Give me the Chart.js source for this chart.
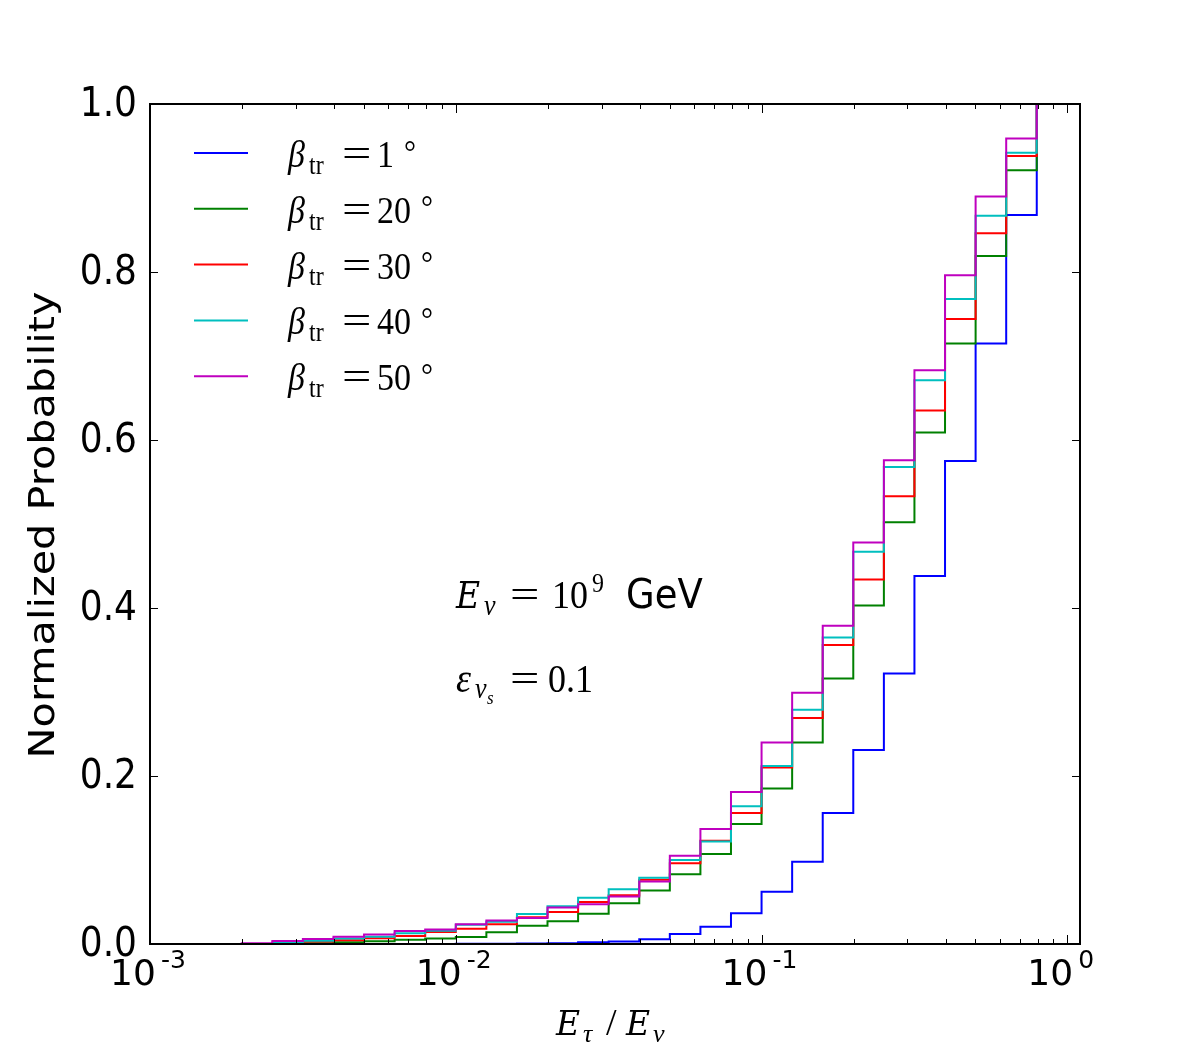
<!DOCTYPE html>
<html>
<head>
<meta charset="utf-8">
<script src="https://cdn.jsdelivr.net/npm/chart.js@4.4.0/dist/chart.umd.min.js"></script>
<style>
  body { margin: 0; background: #fff; }
  canvas { display: block; }
</style>
</head>
<body>
<canvas id="probChart" width="1200" height="1050"></canvas>
<script>
// bin edges of E_tau/E_nu (10 bins per decade), last point closes the step at 1.0
var binEdges = [0.001, 0.001259, 0.001585, 0.001995, 0.002512, 0.003162, 0.003981, 0.005012, 0.00631, 0.007943,
                0.01, 0.01259, 0.01585, 0.01995, 0.02512, 0.03162, 0.03981, 0.05012, 0.0631, 0.07943,
                0.1, 0.1259, 0.1585, 0.1995, 0.2512, 0.3162, 0.3981, 0.5012, 0.631, 0.7943];

var betaLabels = ['1', '20', '30', '40', '50'];
var lineColors = ['#0000ff', '#008000', '#ff0000', '#00bfbf', '#bf00bf'];

// value of each bin (held from its left edge up to the next edge)
var probBeta1  = [0, 0, 0, 0, 0, 0, 0, 0, 0, 0,
                  0.0002, 0.0004, 0.0006, 0.001, 0.002, 0.003, 0.0056, 0.0119, 0.0206, 0.0365,
                  0.0623, 0.098, 0.156, 0.231, 0.322, 0.438, 0.575, 0.715, 0.868, 1.0];
var probBeta20 = [0, 0, 0, 0, 0.0005, 0.001, 0.002, 0.0034, 0.005, 0.0065,
                  0.0082, 0.0139, 0.0218, 0.027, 0.036, 0.0485, 0.0638, 0.083, 0.107, 0.143,
                  0.185, 0.240, 0.316, 0.403, 0.502, 0.609, 0.715, 0.819, 0.921, 1.0];
var probBeta30 = [0, 0, 0, 0, 0.0015, 0.003, 0.0045, 0.0067, 0.0095, 0.0143,
                  0.0182, 0.0234, 0.0317, 0.038, 0.050, 0.058, 0.0765, 0.096, 0.123, 0.156,
                  0.210, 0.269, 0.356, 0.434, 0.533, 0.635, 0.744, 0.846, 0.938, 1.0];
var probBeta40 = [0, 0, 0, 0, 0.0016, 0.004, 0.0065, 0.0087, 0.0127, 0.0158,
                  0.0228, 0.0265, 0.0357, 0.0448, 0.055, 0.0652, 0.0788, 0.100, 0.122, 0.164,
                  0.212, 0.279, 0.365, 0.467, 0.568, 0.671, 0.768, 0.867, 0.942, 1.0];
var probBeta50 = [0, 0, 0, 0.0008, 0.0036, 0.006, 0.0085, 0.0112, 0.0155, 0.0172,
                  0.0236, 0.028, 0.031, 0.0435, 0.0473, 0.0564, 0.0744, 0.105, 0.137, 0.181,
                  0.240, 0.299, 0.379, 0.478, 0.576, 0.683, 0.796, 0.890, 0.959, 1.0];

var allProbs = [probBeta1, probBeta20, probBeta30, probBeta40, probBeta50];

// axis ticks
var xMajorTicks = [0.001, 0.01, 0.1, 1];
var xMajorExps = ['-3', '-2', '-1', '0'];
var xMinorTicks = [0.002, 0.003, 0.004, 0.005, 0.006, 0.007, 0.008, 0.009,
                   0.02, 0.03, 0.04, 0.05, 0.06, 0.07, 0.08, 0.09,
                   0.2, 0.3, 0.4, 0.5, 0.6, 0.7, 0.8, 0.9];
var yTicks = [0, 0.2, 0.4, 0.6, 0.8, 1.0];
var yTickLabels = ['0.0', '0.2', '0.4', '0.6', '0.8', '1.0'];

var SANS = '"DejaVu Sans", sans-serif';
var SERIF = '"Liberation Serif", serif';
var MSERIF = '"DejaVu Serif", serif';

// draws a row of text pieces; each piece has its own font, x offset and baseline shift
function drawRuns(ctx, x, y, runs, sy) {
    ctx.save();
    ctx.translate(x, y);
    ctx.scale(1, sy || 1);
    ctx.textAlign = 'left';
    ctx.textBaseline = 'alphabetic';
    runs.forEach(function(r) {
        ctx.save();
        ctx.translate(r.x, r.dy || 0);
        if (r.sx) ctx.scale(r.sx, 1);
        ctx.font = r.f;
        ctx.fillText(r.t, 0, 0);
        ctx.restore();
    });
    ctx.restore();
}

var EQ = {t: '=', f: '36px ' + SERIF, sx: 1.45};

var decorPlugin = {
    id: 'decor',
    afterDraw: function(chart) {
        var ctx = chart.ctx;
        var a = chart.chartArea;
        var xs = chart.scales.x, ys = chart.scales.y;
        ctx.save();
        ctx.fillStyle = '#000';
        ctx.strokeStyle = '#000';

        // frame
        ctx.lineWidth = 2;
        ctx.strokeRect(a.left, a.top, a.right - a.left, a.bottom - a.top);

        // inward ticks
        ctx.lineWidth = 1;
        ctx.beginPath();
        xMajorTicks.forEach(function(v) {
            var px = Math.round(xs.getPixelForValue(v)) + 0.5;
            ctx.moveTo(px, a.bottom); ctx.lineTo(px, a.bottom - 9);
            ctx.moveTo(px, a.top); ctx.lineTo(px, a.top + 9);
        });
        xMinorTicks.forEach(function(v) {
            var px = Math.round(xs.getPixelForValue(v)) + 0.5;
            ctx.moveTo(px, a.bottom); ctx.lineTo(px, a.bottom - 5);
            ctx.moveTo(px, a.top); ctx.lineTo(px, a.top + 5);
        });
        yTicks.forEach(function(v) {
            var py = Math.round(ys.getPixelForValue(v)) + 0.5;
            ctx.moveTo(a.left, py); ctx.lineTo(a.left + 8, py);
            ctx.moveTo(a.right, py); ctx.lineTo(a.right - 8, py);
        });
        ctx.stroke();

        // y tick labels
        yTicks.forEach(function(v, i) {
            var py = ys.getPixelForValue(v);
            ctx.save();
            ctx.translate(a.left - 13, py);
            ctx.scale(1, 1.14);
            ctx.font = '36px ' + SANS;
            ctx.textAlign = 'right';
            ctx.textBaseline = 'middle';
            ctx.fillText(yTickLabels[i], 0, 1);
            ctx.restore();
        });

        // x tick labels 10^n
        xMajorTicks.forEach(function(v, i) {
            var px = xs.getPixelForValue(v);
            drawRuns(ctx, px - 40, 985, [
                {t: '10', f: '36px ' + SANS, x: 0},
                {t: xMajorExps[i], f: '25px ' + SANS, x: 51, dy: -17}
            ]);
        });

        // axis titles
        ctx.save();
        ctx.translate(54, 525);
        ctx.rotate(-Math.PI / 2);
        ctx.scale(1.15, 1);
        ctx.font = '36px ' + SANS;
        ctx.textAlign = 'center';
        ctx.textBaseline = 'alphabetic';
        ctx.fillText('Normalized Probability', 0, 0);
        ctx.restore();

        drawRuns(ctx, 556, 1035, [
            {t: 'E', f: 'italic 33px ' + MSERIF, x: 0},
            {t: 'τ', f: 'italic 26px ' + SERIF, x: 27, dy: 7},
            {t: '/', f: '38px ' + SERIF, x: 50},
            {t: 'E', f: 'italic 33px ' + MSERIF, x: 70},
            {t: 'ν', f: 'italic 26px ' + SERIF, x: 97, dy: 7}
        ]);

        // legend
        chart.data.datasets.forEach(function(ds, i) {
            var ly = 153 + i * 55.8;
            ctx.strokeStyle = ds.borderColor;
            ctx.lineWidth = 2;
            ctx.beginPath();
            ctx.moveTo(194, ly); ctx.lineTo(248, ly);
            ctx.stroke();
            ctx.font = '34px ' + SERIF;
            var nw = ctx.measureText(betaLabels[i]).width;
            drawRuns(ctx, 288, ly + 14, [
                {t: 'β', f: 'italic 34px ' + SERIF, x: 0},
                {t: 'tr', f: '24px ' + SERIF, x: 21, dy: 6},
                {t: EQ.t, f: EQ.f, sx: EQ.sx, x: 54},
                {t: betaLabels[i], f: '34px ' + SERIF, x: 89},
                {t: '°', f: '30px ' + SERIF, x: 89 + nw + 10, dy: -4}
            ], 1.12);
        });

        // annotations
        drawRuns(ctx, 456, 608, [
            {t: 'E', f: 'italic 33px ' + MSERIF, x: 0},
            {t: 'ν', f: 'italic 26px ' + SERIF, x: 28, dy: 6},
            {t: EQ.t, f: EQ.f, sx: EQ.sx, x: 54},
            {t: '10', f: '36px ' + SERIF, x: 96},
            {t: '9', f: '24px ' + SERIF, x: 136, dy: -14},
            {t: 'GeV', f: '37px ' + SANS, x: 170}
        ], 1.12);
        drawRuns(ctx, 456, 692, [
            {t: 'ε', f: 'italic 38px ' + SERIF, x: 0},
            {t: 'ν', f: 'italic 26px ' + SERIF, x: 19, dy: 5},
            {t: 's', f: 'italic 17px ' + SERIF, x: 31, dy: 11},
            {t: EQ.t, f: EQ.f, sx: EQ.sx, x: 54},
            {t: '0.1', f: '36px ' + SERIF, x: 92}
        ], 1.12);

        ctx.restore();
    }
};

var datasets = allProbs.map(function(vals, i) {
    return {
        label: 'beta_tr = ' + betaLabels[i] + ' deg',
        data: binEdges.map(function(x, k) { return {x: x, y: vals[k]}; }),
        borderColor: lineColors[i],
        borderWidth: 2,
        pointRadius: 0,
        fill: false,
        stepped: 'before',
        order: allProbs.length - i
    };
});

var ctx = document.getElementById('probChart').getContext('2d');
var chart = new Chart(ctx, {
    type: 'line',
    data: { datasets: datasets },
    options: {
        responsive: false,
        animation: false,
        devicePixelRatio: 1,
        layout: { padding: { left: 0, right: 120, top: 104, bottom: 0 } },
        plugins: {
            legend: { display: false },
            tooltip: { enabled: false }
        },
        scales: {
            x: {
                type: 'logarithmic',
                min: 0.001,
                max: 1.1,
                grid: { display: false },
                border: { display: false },
                ticks: { display: false },
                afterFit: function(scale) { scale.height = 106; }
            },
            y: {
                type: 'linear',
                min: 0,
                max: 1,
                grid: { display: false },
                border: { display: false },
                ticks: { display: false },
                afterFit: function(scale) { scale.width = 150; }
            }
        }
    },
    plugins: [decorPlugin]
});
</script>
</body>
</html>
